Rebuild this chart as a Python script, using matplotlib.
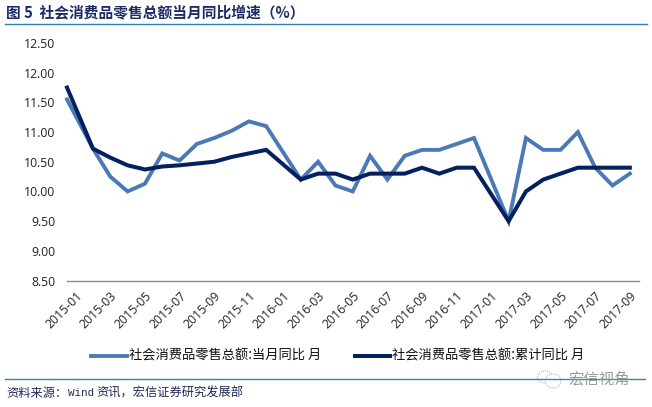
import matplotlib
matplotlib.use("Agg")
import matplotlib.pyplot as plt
from matplotlib.lines import Line2D
from matplotlib.patches import Ellipse

CJK = ['Noto Sans CJK SC', 'DejaVu Sans']
W, H = 652, 407

title = '图 5  社会消费品零售总额当月同比增速（%）'
source_a = '资料来源：'
source_b = 'Wind'
source_c = '资讯，宏信证券研究发展部'
watermark = '宏信视角'
series_a_name = '社会消费品零售总额:当月同比 月'
series_b_name = '社会消费品零售总额:累计同比 月'

months = ['2015-01', '2015-02', '2015-03', '2015-04', '2015-05', '2015-06', '2015-07', '2015-08', '2015-09',
          '2015-10', '2015-11', '2015-12', '2016-01', '2016-02', '2016-03', '2016-04', '2016-05', '2016-06',
          '2016-07', '2016-08', '2016-09', '2016-10', '2016-11', '2016-12', '2017-01', '2017-02', '2017-03',
          '2017-04', '2017-05', '2017-06', '2017-07', '2017-08', '2017-09']
monthly_yoy = [11.55, 10.72, 10.25, 10.00, 10.13, 10.64, 10.52, 10.80, 10.90, 11.02, 11.18, 11.10, 10.65,
               10.20, 10.50, 10.10, 10.00, 10.60, 10.20, 10.60, 10.70, 10.70, 10.80, 10.90, 10.20, 9.50,
               10.90, 10.70, 10.70, 11.00, 10.40, 10.10, 10.30]
cumulative_yoy = [11.75, 10.72, 10.57, 10.44, 10.37, 10.42, 10.44, 10.47, 10.50, 10.58, 10.64, 10.70, 10.45,
                  10.20, 10.30, 10.30, 10.20, 10.30, 10.30, 10.30, 10.40, 10.30, 10.40, 10.40, 9.95, 9.50,
                  10.00, 10.20, 10.30, 10.40, 10.40, 10.40, 10.40]
y_ticks = [8.5, 9.0, 9.5, 10.0, 10.5, 11.0, 11.5, 12.0, 12.5]

# The first point sits on the axis edge in the reference
x_pos = [-0.5] + list(range(1, len(months)))

fig = plt.figure(figsize=(W / 100, H / 100), dpi=100, facecolor='white')
ax = fig.add_axes([67 / W, 1 - 280.5 / H, (638.5 - 67) / W, (280.5 - 43) / H])
ax.plot(x_pos, monthly_yoy, color='#4a7ab5', lw=2.8, solid_joinstyle='miter', clip_on=False)
ax.plot(x_pos, cumulative_yoy, color='#04205f', lw=2.9, solid_joinstyle='miter', clip_on=False)
ax.set_xlim(-0.5, 32.5)
ax.set_ylim(8.5, 12.5)
ax.set_yticks(y_ticks)
ax.set_yticklabels([f'{v:.2f}' for v in y_ticks], fontsize=8.8, family='Open Sans', color='#222222')
ax.set_xticks(range(0, len(months), 2))
ax.set_xticklabels(months[::2], rotation=45, ha='right', rotation_mode='anchor', fontsize=8.8,
                   family='Open Sans', color='#222222')
ax.tick_params(axis='y', length=0, pad=8.5)
ax.tick_params(axis='x', length=0, pad=6.5)
for name in ['top', 'left', 'right']:
    ax.spines[name].set_visible(False)
ax.spines['bottom'].set_color('#8c8c8c')
ax.spines['bottom'].set_linewidth(1.0)


def px(x, y):
    return x / W, 1 - y / H


def hline(x0, x1, y, color, lw):
    fig.add_artist(Line2D([x0 / W, x1 / W], [1 - y / H, 1 - y / H], color=color, lw=lw))


fig.text(*px(6, 12), title, family=CJK, fontsize=10.6, fontweight='bold', color='#1c2a66', va='center')
hline(5, 647, 24, '#2f7fb8', 1.0)

hline(91, 127, 356, '#4a7ab5', 2.8)
fig.text(*px(129, 355), series_a_name, family=CJK, fontsize=9.55, color='#111111', va='center')
hline(355, 390, 356, '#04205f', 2.9)
fig.text(*px(392, 355), series_b_name, family=CJK, fontsize=9.55, color='#111111', va='center')

hline(5, 645, 379, '#2a8fa8', 1.0)
fig.text(*px(6, 393), source_a, family=CJK, fontsize=8.8, color='#222a55', va='center')
fig.text(*px(67.5, 393), source_b, family='Liberation Mono', fontsize=7.8, color='#222a55', va='center')
fig.text(*px(96, 393), source_c, family=CJK, fontsize=8.8, color='#222a55', va='center')

for cx, cy, w, h in [(545, 377, 15, 12), (553, 381, 16, 14)]:
    fig.add_artist(Ellipse(px(cx, cy), w / W, h / H, transform=fig.transFigure, fill=True, facecolor='white',
                           edgecolor='#b5b5b5', lw=0.8, ls=(0, (1, 1))))
fig.text(*px(568, 379), watermark, family=CJK, fontsize=11.1, color='#9a9a9a', va='center')

fig.savefig('out.png', dpi=100)
